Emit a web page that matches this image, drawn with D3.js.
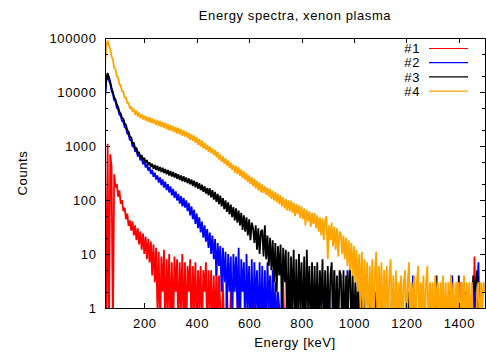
<!DOCTYPE html>
<html><head><meta charset="utf-8">
<script src="https://cdn.jsdelivr.net/npm/d3@7"></script>
<style>
body{margin:0;background:#fff;}
svg text{font-family:"Liberation Sans",Arial,sans-serif;font-size:13px;letter-spacing:0.6px;fill:#000;}
</style></head><body>
<svg id="chart" width="486" height="357"></svg>
<script>
const title = "Energy spectra, xenon plasma";
const xLabel = "Energy [keV]";
const yLabel = "Counts";
const seriesNames = ["#1", "#2", "#3", "#4"];
const seriesColors = ["#ff0000", "#0000ff", "#000000", "#ffa500"];
const energyStart = 50, energyStep = 5; // channel grid in keV
const xTicks = [200, 400, 600, 800, 1000, 1200, 1400];
const yTicks = [1, 10, 100, 1000, 10000, 100000];
const yMinorTicks = [2, 5, 20, 50, 200, 500, 2000, 5000, 20000, 50000];

// counts per channel, 50..1500 keV every 5 keV
const counts1 = [
650,0,1100,0,700,420,0,300,170,200,115,150,85,100,62,72,44,56,33,42,
27,40,22,34,18,30,15,26,12,24,10,21,8,19,7,17,4,15,3,13,
1,11,0,9,2,12,0,8,1,10,0,7,0,9,2,8,0,7,1,10,
0,7,0,6,2,8,0,6,1,7,0,5,1,6,0,5,2,7,0,5,
1,5,0,4,0,6,0,4,1,0,3,0,0,3,0,0,2,0,1,0,
1,0,2,0,0,1,0,0,0,1,0,0,0,0,2,0,0,0,0,1,
0,0,0,0,1,0,0,0,0,0,0,0,0,0,0,0,3,0,0,0,
0,0,0,0,0,1,0,0,0,0,0,0,0,0,0,0,0,0,0,0,
0,0,0,0,0,0,0,0,0,0,0,0,0,0,0,5,0,0,0,0,
0,0,0,0,0,0,0,0,0,0,0,0,0,0,0,0,0,0,0,0,
0,0,0,0,0,0,0,0,0,0,0,0,0,0,0,0,0,0,0,0,
0,0,0,0,0,0,1,0,0,0,0,0,0,0,0,0,0,0,0,0,
0,0,0,0,0,0,0,0,0,0,0,0,0,0,0,0,0,0,0,0,
0,0,0,0,4,0,0,0,0,0,0,0,3,0,0,0,0,0,0,0,
0,0,9,0,0,0,0,0,0,0,0];

const counts2 = [
7500,16000,19500,16500,14000,10500,9200,7000,6700,5100,4800,3800,3600,2900,2800,2250,2150,1700,1620,1280,
1320,960,1060,780,860,640,720,540,610,460,530,400,460,350,405,305,360,270,320,240,
285,210,262,188,240,170,218,152,196,138,178,122,160,110,144,98,130,86,118,76,
110,72,98,62,88,52,76,44,66,36,56,30,48,25,40,20,34,17,29,13,
25,10,22,8,19,4,16,6,14,2,13,3,11,1,10,2,9,0,10,2,
9,1,13,0,8,2,7,0,10,1,6,0,8,0,7,1,5,0,7,0,
6,0,5,0,7,1,4,0,5,0,3,0,2,1,0,3,0,1,0,2,
1,0,2,0,0,1,0,3,0,1,0,0,2,0,1,0,0,1,0,0,
1,0,0,2,0,1,0,0,1,0,0,2,0,0,1,0,0,1,0,0,
0,1,0,0,0,5,0,1,0,0,1,0,0,0,1,0,0,0,1,0,
0,0,1,0,0,0,1,0,0,0,0,1,0,0,0,0,1,0,0,0,
0,0,0,1,0,0,0,0,1,0,0,0,0,0,0,4,0,0,0,0,
0,1,0,0,0,0,0,1,0,0,0,0,1,0,0,0,0,0,1,0,
0,0,0,0,0,4,0,0,0,1,0,0,0,0,1,0,0,0,0,0,
0,1,3,0,2,7,0,0,1,0,0];

const counts3 = [
8500,18500,22500,19000,15500,12000,10000,8000,7300,5900,5300,4300,4000,3300,3200,2600,2450,1950,1850,1480,
1450,1100,1170,880,930,720,780,610,680,540,610,480,550,440,500,410,470,380,445,360,
430,345,410,330,395,315,375,300,360,285,345,272,330,260,315,248,300,235,285,222,
275,215,262,205,250,195,240,182,228,172,215,162,205,152,192,142,180,132,168,122,
165,112,152,102,142,92,130,84,120,76,108,68,98,60,90,54,82,48,74,42,
70,38,64,34,58,28,52,26,48,22,44,18,38,30,16,34,12,30,10,26,
28,9,34,8,22,6,20,5,18,3,16,2,14,4,15,1,13,3,12,0,
11,0,9,1,12,0,8,0,10,1,7,0,9,0,12,1,6,0,7,0,
6,0,7,0,5,1,8,0,5,0,6,0,4,7,0,5,0,4,0,5,
4,0,5,0,4,0,3,6,0,4,0,3,0,4,0,2,0,3,0,0,
1,0,2,0,1,0,0,2,1,0,1,0,2,0,1,0,0,1,0,2,
0,1,0,0,2,0,1,0,0,1,0,2,0,1,0,0,1,0,0,1,
0,2,0,1,0,0,1,0,2,0,1,0,0,4,0,1,0,0,2,0,
1,0,0,2,0,1,0,0,1,0,4,0,1,0,0,2,0,1,0,0,
1,4,2,3,5,1,0,1,0,1,0];

const counts4 = [
30000,72000,90000,74000,62000,46000,40000,28000,26500,19500,18500,13500,13500,10200,10300,7800,7900,6200,6300,4900,
5400,4300,4900,3800,4500,3500,4150,3300,3850,3100,3650,2950,3500,2800,3400,2700,3250,2600,3100,2450,
3000,2350,2900,2250,2800,2150,2700,2050,2550,1950,2450,1900,2350,1800,2250,1700,2150,1650,2050,1550,
1950,1500,1850,1400,1750,1300,1650,1250,1550,1150,1450,1050,1350,980,1250,900,1150,850,1050,780,
980,740,900,680,840,620,780,560,700,510,640,470,590,430,540,390,490,360,450,320,
430,300,400,280,370,255,340,235,310,215,285,200,265,180,245,165,225,150,210,138,
195,135,180,125,170,115,160,105,148,98,140,90,130,84,122,76,112,70,104,64,
100,62,96,58,90,50,84,55,80,46,76,44,70,34,66,40,62,32,58,36,
58,30,52,26,48,22,46,18,42,50,8,34,18,38,14,32,12,30,9,26,
24,10,22,8,20,6,18,5,16,4,14,3,12,2,10,1,11,1,8,1,
7,0,6,1,8,0,5,11,0,6,1,7,0,5,1,6,0,4,8,0,
4,0,5,0,3,1,4,0,3,5,0,3,7,0,3,1,4,0,3,6,
0,3,1,4,0,3,6,0,3,1,3,0,4,1,3,0,3,1,4,0,
3,0,3,0,4,1,3,0,3,1,3,0,3,1,4,0,3,1,3,0,
3,0,0,0,2,3,0,3,1,3,2];

const allCounts = [counts1, counts2, counts3, counts4];

const plot = {left: 105, right: 485, top: 38, bottom: 308};
const svg = d3.select("#chart");

const x = d3.scaleLinear().domain([50, 1500]).range([plot.left, plot.right]);
const y = d3.scaleLog().domain([1, 100000]).range([plot.bottom, plot.top]);
const zeroLevel = 0.3; // zero counts drawn below the axis (clipped)

svg.append("defs").append("clipPath").attr("id", "clip")
  .append("rect").attr("x", plot.left).attr("y", plot.top)
  .attr("width", plot.right - plot.left).attr("height", plot.bottom - plot.top);

const line = d3.line()
  .x((d, i) => x(energyStart + i * energyStep))
  .y(d => y(d > 0 ? d : zeroLevel));

const gData = svg.append("g").attr("clip-path", "url(#clip)");
allCounts.forEach((arr, k) => {
  gData.append("path").datum(arr)
    .attr("d", line)
    .attr("fill", "none")
    .attr("stroke", seriesColors[k])
    .attr("stroke-width", 1.8)
    .attr("stroke-linejoin", "bevel");
});

// axes
const axL = d3.axisLeft(y).tickValues(yTicks).tickFormat(d3.format("d")).tickSize(-5).tickPadding(8.5);
const gL = svg.append("g").attr("transform", `translate(${plot.left},0)`).call(axL);
const axR = d3.axisRight(y).tickValues(yTicks).tickFormat("").tickSize(-5);
const gR = svg.append("g").attr("transform", `translate(${plot.right},0)`).call(axR);
const axB = d3.axisBottom(x).tickValues(xTicks).tickFormat(d3.format("d")).tickSize(-5).tickPadding(10.5);
const gB = svg.append("g").attr("transform", `translate(0,${plot.bottom})`).call(axB);
const axT = d3.axisTop(x).tickValues(xTicks).tickFormat("").tickSize(-5);
const gT = svg.append("g").attr("transform", `translate(0,${plot.top})`).call(axT);
const mL = d3.axisLeft(y).tickValues(yMinorTicks).tickFormat("").tickSize(-3);
const gmL = svg.append("g").attr("transform", `translate(${plot.left},0)`).call(mL);
const mR = d3.axisRight(y).tickValues(yMinorTicks).tickFormat("").tickSize(-3);
const gmR = svg.append("g").attr("transform", `translate(${plot.right},0)`).call(mR);

[gL, gR, gB, gT, gmL, gmR].forEach(g => {
  g.select(".domain").remove();
  g.selectAll("line").attr("stroke", "#000").attr("shape-rendering", "crispEdges");
  g.selectAll("text").attr("font-family", null).attr("font-size", null).attr("fill", "#000");
});

svg.append("rect")
  .attr("x", plot.left).attr("y", plot.top)
  .attr("width", plot.right - plot.left).attr("height", plot.bottom - plot.top)
  .attr("fill", "none").attr("stroke", "#000").attr("stroke-width", 1)
  .attr("shape-rendering", "crispEdges");

// titles
svg.append("text").attr("x", (plot.left + plot.right) / 2).attr("y", 19.5)
  .attr("text-anchor", "middle").text(title);
svg.append("text").attr("x", (plot.left + plot.right) / 2).attr("y", 347)
  .attr("text-anchor", "middle").text(xLabel);
svg.append("text").attr("transform", `translate(27,${(plot.top + plot.bottom) / 2}) rotate(-90)`)
  .attr("text-anchor", "middle").text(yLabel);

// legend
const legendY0 = 48.5, legendDy = 14.2;
const gLeg = svg.append("g");
seriesNames.forEach((name, k) => {
  const yy = legendY0 + k * legendDy;
  gLeg.append("text").attr("x", 420).attr("y", yy + 4.6).attr("text-anchor", "end").text(name);
  gLeg.append("line").attr("x1", 429).attr("x2", 468).attr("y1", yy).attr("y2", yy)
    .attr("stroke", seriesColors[k]).attr("stroke-width", 1.2);
});
</script>
</body></html>
